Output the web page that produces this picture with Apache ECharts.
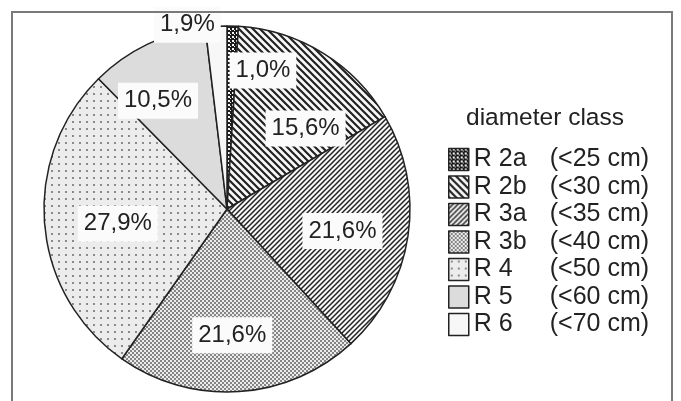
<!DOCTYPE html>
<html>
<head>
<meta charset="utf-8">
<style>
  html, body { margin: 0; padding: 0; background: #ffffff; }
  #chart { width: 681px; height: 401px; }
</style>
<script src="https://cdn.jsdelivr.net/npm/echarts@6/dist/echarts.min.js"></script>
</head>
<body>
<div id="chart"></div>
<script>
// Diameter classes and their share of stems (%)
const classCodes  = ['R 2a', 'R 2b', 'R 3a', 'R 3b', 'R 4', 'R 5', 'R 6'];
const classRanges = ['(<25 cm)', '(<30 cm)', '(<35 cm)', '(<40 cm)', '(<50 cm)', '(<60 cm)', '(<70 cm)'];
const shares      = [1.0, 15.6, 21.6, 21.6, 27.9, 10.5, 1.9];
const legendTitle = 'diameter class';

// Nudges of each percentage label away from its default inside spot
const labelNudge = [[33, -44], [29, 0], [22, 8], [-1, 32], [-15, 7], [-28, -23], [-34, -90]];

const INK = '#222222';
const FONT = 'Liberation Sans';

function tile(size, draw) {
  const c = document.createElement('canvas');
  c.width = size; c.height = size;
  const g = c.getContext('2d');
  draw(g, size);
  return { image: c, repeat: 'repeat' };
}

// Fill patterns, one per class
const fills = [
  // fine checker of white dots on black
  tile(4, (g, s) => {
    g.fillStyle = '#1a1a1a'; g.fillRect(0, 0, s, s);
    g.fillStyle = '#f4f4f4';
    g.fillRect(0, 0, 2, 2); g.fillRect(2, 2, 1, 1);
  }),
  // backslash hatching, bold
  tile(7, (g, s) => {
    g.fillStyle = '#f8f8f8'; g.fillRect(0, 0, s, s);
    g.strokeStyle = INK; g.lineWidth = 2.2;
    g.beginPath();
    g.moveTo(-1, -1); g.lineTo(s + 1, s + 1);
    g.moveTo(-1, s - 1); g.lineTo(1, s + 1);
    g.moveTo(s - 1, -1); g.lineTo(s + 1, 1);
    g.stroke();
  }),
  // forward-slash hatching, finer
  tile(5, (g, s) => {
    g.fillStyle = '#f8f8f8'; g.fillRect(0, 0, s, s);
    g.strokeStyle = INK; g.lineWidth = 1.5;
    g.beginPath();
    g.moveTo(-1, s + 1); g.lineTo(s + 1, -1);
    g.moveTo(-1, 1); g.lineTo(1, -1);
    g.moveTo(s - 1, s + 1); g.lineTo(s + 1, s - 1);
    g.stroke();
  }),
  // dense grey dots
  tile(4, (g, s) => {
    g.fillStyle = '#ebebeb'; g.fillRect(0, 0, s, s);
    g.fillStyle = '#858585';
    g.fillRect(0, 0, 2, 2); g.fillRect(2, 2, 2, 2);
  }),
  // sparse small dashes
  tile(7, (g, s) => {
    g.fillStyle = '#ececec'; g.fillRect(0, 0, s, s);
    g.fillStyle = '#8a8a8a';
    g.fillRect(2, 2, 2, 2);
  }),
  '#dcdcdc',
  '#f7f7f7'
];

const fmtPct = v => v.toFixed(1).replace('.', ',') + '%';

const pieData = classCodes.map((code, i) => ({
  name: code,
  value: shares[i],
  itemStyle: { color: fills[i] },
  label: { offset: labelNudge[i] }
}));

const chart = echarts.init(document.getElementById('chart'), null, { renderer: 'canvas' });

chart.setOption({
  animation: false,
  backgroundColor: '#ffffff',
  textStyle: { fontFamily: FONT },
  graphic: [
    {
      type: 'rect',
      shape: { x: 12, y: 12, width: 660, height: 420 },
      style: { fill: 'none', stroke: '#7a7a7a', lineWidth: 2 },
      z: 100
    },
    {
      type: 'text',
      left: 466, top: 106,
      style: { text: legendTitle, fill: INK, font: '24.5px "Liberation Sans", Arial, sans-serif' }
    }
  ],
  legend: {
    orient: 'vertical',
    left: 443,
    top: 142,
    icon: 'rect',
    itemWidth: 20,
    itemHeight: 22,
    itemGap: 2.5,
    selectedMode: false,
    data: classCodes,
    itemStyle: { borderColor: INK, borderWidth: 1.5 },
    // class code, then its range at a fixed tab stop
    formatter: name => '{c|' + name + '}{r|' + classRanges[classCodes.indexOf(name)] + '}',
    textStyle: {
      color: INK,
      fontSize: 25,
      lineHeight: 22,
      rich: {
        c: { fontSize: 25, color: INK, width: 76, lineHeight: 22, fontFamily: FONT },
        r: { fontSize: 25, color: INK, lineHeight: 22, fontFamily: FONT }
      }
    }
  },
  series: [{
    type: 'pie',
    center: [227, 209],
    radius: 183,
    startAngle: 90,
    clockwise: true,
    avoidLabelOverlap: false,
    data: pieData,
    itemStyle: { borderColor: INK, borderWidth: 1.5 },
    emphasis: { disabled: true },
    label: {
      show: true,
      position: 'inside',
      formatter: p => fmtPct(p.value),
      color: INK,
      fontSize: 24,
      fontFamily: FONT,
      backgroundColor: '#fbfbfb',
      padding: [7, 6, 5, 6]
    },
    labelLine: { show: false }
  }]
});
</script>
</body>
</html>
